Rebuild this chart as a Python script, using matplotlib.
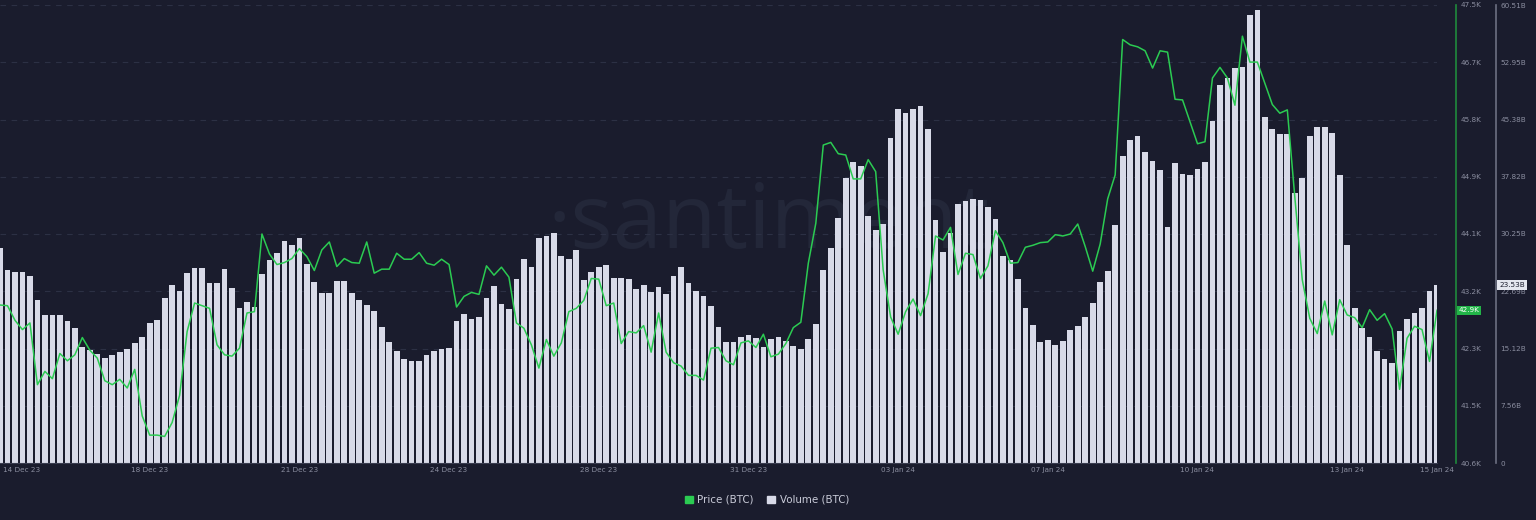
import numpy as np
import matplotlib
matplotlib.use('Agg')
import matplotlib.pyplot as plt
import matplotlib.transforms as mtransforms
from matplotlib.patches import Patch

#%% Data (4h candles)

# Volume (BTC), in billions
volume = [28.37, 25.50, 25.27, 25.27, 24.75, 21.54, 19.55, 19.55, 19.55, 18.76,
          17.80, 15.29, 14.93, 14.36, 13.83, 14.27, 14.70, 15.02, 15.81, 16.61,
          18.54, 18.89, 21.76, 23.52, 22.76, 25.14, 25.72, 25.72, 23.82, 23.82,
          25.59, 23.08, 20.52, 21.31, 20.65, 24.93, 26.82, 27.78, 29.37, 28.80,
          29.69, 26.25, 23.87, 22.42, 22.42, 24.09, 24.05, 22.42, 21.54, 20.87,
          20.12, 17.93, 15.95, 14.80, 13.70, 13.44, 13.44, 14.27, 14.84, 15.06,
          15.15, 18.76, 19.69, 18.99, 19.25, 21.80, 23.39, 21.01, 20.39, 24.35,
          26.95, 25.94, 29.77, 29.95, 30.43, 27.39, 26.91, 28.14, 24.18, 25.20,
          25.86, 26.20, 24.40, 24.40, 24.27, 22.95, 23.52, 22.55, 23.29, 22.33,
          24.71, 25.94, 23.74, 22.76, 22.10, 20.74, 18.01, 15.95, 16.03, 16.69,
          16.91, 16.55, 15.37, 16.34, 16.61, 16.16, 15.42, 15.06, 16.34, 18.33,
          25.46, 28.45, 32.41, 37.69, 39.73, 39.20, 32.63, 30.74, 31.62, 42.98,
          46.77, 46.28, 46.81, 47.21, 44.09, 32.07, 27.88, 30.35, 34.22, 34.62,
          34.84, 34.71, 33.86, 32.24, 27.39, 26.82, 24.35, 20.44, 18.23, 15.99,
          16.25, 15.59, 16.12, 17.57, 18.10, 19.25, 21.18, 23.85, 25.43, 31.44,
          40.60, 42.64, 43.16, 41.09, 39.86, 38.75, 31.18, 39.68, 38.22, 38.05,
          38.84, 39.77, 45.23, 49.98, 50.83, 52.15, 52.32, 59.15, 59.81, 45.71,
          44.17, 43.47, 43.47, 35.71, 37.69, 43.24, 44.43, 44.43, 43.56, 38.01,
          28.84, 20.48, 17.80, 16.65, 14.84, 13.70, 13.25, 17.40, 19.07, 19.78,
          20.44, 22.72, 23.53]

# Price (BTC), in thousands USD
price = [42.98, 42.97, 42.75, 42.61, 42.71, 41.78, 41.98, 41.87, 42.25, 42.14,
         42.23, 42.49, 42.30, 42.18, 41.84, 41.78, 41.86, 41.73, 42.01, 41.31,
         41.02, 41.02, 41.00, 41.21, 41.62, 42.58, 43.01, 42.97, 42.93, 42.38,
         42.23, 42.21, 42.33, 42.86, 42.88, 44.05, 43.75, 43.59, 43.62, 43.68,
         43.83, 43.71, 43.50, 43.81, 43.93, 43.56, 43.68, 43.62, 43.61, 43.93,
         43.46, 43.52, 43.52, 43.76, 43.67, 43.67, 43.77, 43.61, 43.58, 43.67,
         43.59, 42.95, 43.11, 43.17, 43.14, 43.57, 43.43, 43.55, 43.40, 42.71,
         42.63, 42.38, 42.03, 42.46, 42.21, 42.41, 42.88, 42.93, 43.05, 43.38,
         43.37, 42.97, 43.01, 42.40, 42.58, 42.56, 42.67, 42.27, 42.86, 42.27,
         42.11, 42.06, 41.92, 41.92, 41.85, 42.33, 42.34, 42.14, 42.08, 42.41,
         42.44, 42.34, 42.54, 42.20, 42.24, 42.40, 42.64, 42.72, 43.61, 44.21,
         45.39, 45.43, 45.26, 45.24, 44.88, 44.88, 45.17, 44.99, 43.51, 42.80,
         42.54, 42.88, 43.07, 42.82, 43.15, 44.02, 43.96, 44.15, 43.44, 43.76,
         43.74, 43.38, 43.57, 44.10, 43.92, 43.61, 43.62, 43.85, 43.88, 43.92,
         43.93, 44.04, 44.02, 44.05, 44.20, 43.86, 43.49, 43.90, 44.58, 44.94,
         46.98, 46.90, 46.87, 46.81, 46.55, 46.81, 46.79, 46.08, 46.07, 45.74,
         45.41, 45.44, 46.40, 46.56, 46.40, 45.99, 47.03, 46.64, 46.64, 46.32,
         46.00, 45.87, 45.92, 44.61, 43.36, 42.78, 42.55, 43.04, 42.53, 43.06,
         42.83, 42.79, 42.64, 42.91, 42.75, 42.85, 42.62, 41.71, 42.48, 42.66,
         42.61, 42.13, 42.90]

date_ticks = [2.9, 20, 40, 60, 80, 100, 120, 140, 160, 180, 192]
date_labels = ['14 Dec 23', '18 Dec 23', '21 Dec 23', '24 Dec 23', '28 Dec 23',
               '31 Dec 23', '03 Jan 24', '07 Jan 24', '10 Jan 24', '13 Jan 24',
               '15 Jan 24']

price_ticks = np.linspace(40.6, 47.5, 9)
price_labels = ['40.6K', '41.5K', '42.3K', '43.2K', '44.1K', '44.9K', '45.8K',
                '46.7K', '47.5K']
volume_ticks = np.linspace(0, 60.51, 9)
volume_labels = ['0', '7.56B', '15.12B', '22.69B', '30.25B', '37.82B', '45.38B',
                 '52.95B', '60.51B']

#%% Styling
bg = '#1a1c2d'
bar_color = '#d8dae8'
green = '#2bcb52'
text_gray = '#8b8ea0'
grid_color = '#2c3044'

x = np.arange(len(volume))

fig = plt.figure(figsize=(15.36, 5.2), dpi=100, facecolor=bg)
ax = fig.add_axes([0, 463/520 * 0 + 57/520, 1437/1536, 458/520])
ax.set_facecolor(bg)
ax.set_axisbelow(True)

# Watermark behind the bars
ax.text(0.535, 0.52, '·santiment', transform=ax.transAxes, ha='center', va='center',
        fontsize=64, color='#232739', family='Open Sans', zorder=0)

# Volume bars
ax.bar(x, volume, width=0.76, color=bar_color, linewidth=0, zorder=1)
ax.set_xlim(0, 192)
ax.set_ylim(0, 60.51)

# Price line on its own axis
ax2 = ax.twinx()
ax2.plot(x, price, color=green, linewidth=1.1, zorder=3)
ax2.set_ylim(40.6, 47.5)

# x axis
ax.set_xticks(date_ticks)
ax.set_xticklabels(date_labels)
ax.set_xticks(date_ticks[1:-1], minor=True)
ax.tick_params(axis='x', which='both', length=0, pad=3, labelsize=5.2, colors=text_gray)
ax.grid(which='minor', axis='x', color=grid_color, linestyle=(0, (5, 5)), linewidth=0.8)

# volume axis (outer right)
ax.yaxis.tick_right()
ax.set_yticks(volume_ticks)
ax.set_yticklabels(volume_labels)
ax.tick_params(axis='y', length=0, pad=3, labelsize=5.2, colors=text_gray)
for lbl in ax.get_yticklabels():
    lbl.set_horizontalalignment('left')
ax.grid(which='major', axis='y', color=grid_color, linestyle=(0, (5, 5)), linewidth=0.8)
ax.spines['right'].set_position(('outward', 42.5))
ax.spines['right'].set_color('#6c6f82')
ax.spines['right'].set_linewidth(1.2)
for s in ['top', 'left']:
    ax.spines[s].set_visible(False)
ax.spines['bottom'].set_color('#3a3d50')

# price axis (inner right)
ax2.set_yticks(price_ticks)
ax2.set_yticklabels(price_labels)
ax2.tick_params(axis='y', length=0, pad=3.5, labelsize=5.2, colors=text_gray)
ax2.spines['right'].set_position(('outward', 13.7))
ax2.spines['right'].set_color('#1f8a3c')
ax2.spines['right'].set_linewidth(1.2)
for s in ['top', 'left', 'bottom']:
    ax2.spines[s].set_visible(False)

# Last value badges
tr_price = mtransforms.blended_transform_factory(ax.transAxes, ax2.transData)
ax2.text(1458.5/1437, price[-1], '42.9K', transform=tr_price, ha='left', va='center',
         fontsize=5.2, color='white', zorder=5,
         bbox=dict(boxstyle='square,pad=0.25', fc='#22b548', ec='none'))
tr_vol = mtransforms.blended_transform_factory(ax.transAxes, ax.transData)
ax.text(1499/1437, volume[-1], '23.53B', transform=tr_vol, ha='left', va='center',
        fontsize=5.2, color='#1a1c2d', zorder=5, clip_on=False,
        bbox=dict(boxstyle='square,pad=0.25', fc='#e4e6ef', ec='none'))

# Legend
handles = [Patch(color=green), Patch(color=bar_color)]
fig.legend(handles, ['Price (BTC)', 'Volume (BTC)'], loc='center',
           bbox_to_anchor=(767/1536, 1 - 500/520), ncol=2, frameon=False,
           fontsize=7.4, labelcolor='#c9cbd8', handlelength=0.75, handleheight=0.75,
           handletextpad=0.45, columnspacing=1.3)

fig.savefig('out.png', dpi=100, facecolor=bg)
